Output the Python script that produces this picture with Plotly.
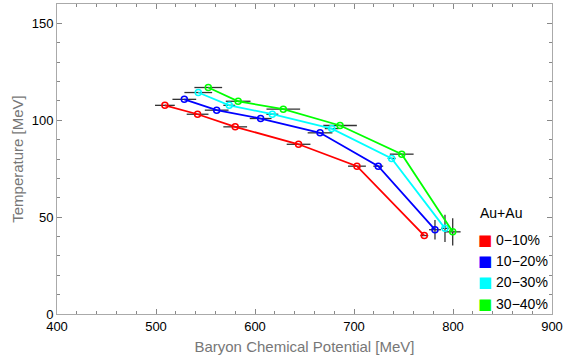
import plotly.graph_objects as go

labels = ["0\u221210%", "10\u221220%", "20\u221230%", "30\u221240%"]
colors = ["#ff0000", "#0000ff", "#00ffff", "#00ff00"]
legend_title = "Au+Au"

mu_0_10 = [509, 542, 580, 644, 703, 771]
T_0_10 = [107.7, 103.1, 96.6, 87.6, 76.3, 40.5]
dmu_0_10 = [10, 11, 12, 12, 9, 4]
dT_0_10 = [0, 0, 0, 0, 0, 0]

mu_10_20 = [528.6, 561.3, 605.7, 665.7, 724.5, 781.8]
T_10_20 = [110.8, 105.2, 100.9, 93.5, 76.3, 43.5]
dmu_10_20 = [12, 12, 11, 12.5, 5, 6]
dT_10_20 = [0, 0, 0, 0, 0, 5]

mu_20_30 = [542.7, 574, 617.5, 677.5, 738, 791.9]
T_20_30 = [114.3, 107.7, 103.1, 95.7, 80.3, 44.2]
dmu_20_30 = [14, 6, 6, 7, 4, 4]
dT_20_30 = [0, 0, 0, 0, 0, 7]

mu_30_40 = [552.8, 583, 628.6, 685.9, 748.2, 799.7]
T_30_40 = [116.9, 109.8, 105.7, 97.3, 82.5, 42.4]
dmu_30_40 = [14, 12.5, 17, 17, 12, 8]
dT_30_40 = [0, 0, 0, 0, 0, 7]

series = [
    (mu_0_10, T_0_10, dmu_0_10, dT_0_10),
    (mu_10_20, T_10_20, dmu_10_20, dT_10_20),
    (mu_20_30, T_20_30, dmu_20_30, dT_20_30),
    (mu_30_40, T_30_40, dmu_30_40, dT_30_40),
]

FONT = "Liberation Sans, Arial"

fig = go.Figure()
# error bars
for (mu, T, dmu, dT), c in zip(series, colors):
    fig.add_trace(go.Scatter(
        x=mu, y=T, mode="markers", marker=dict(size=1, color="rgba(0,0,0,0)"),
        error_x=dict(type="data", array=dmu, color="#333333", thickness=1.3, width=0),
        error_y=dict(type="data", array=dT, color="#333333", thickness=1.3, width=0),
        showlegend=False, hoverinfo="skip"))
# lines + markers, legend entry uses a coloured square glyph
for (mu, T, dmu, dT), c, lab in zip(series, colors, labels):
    fig.add_trace(go.Scatter(
        x=mu, y=T, mode="lines+markers",
        line=dict(color=c, width=1.8),
        marker=dict(symbol="circle-open", size=6, color=c, line=dict(width=1.5, color=c)),
        showlegend=False))
    fig.add_trace(go.Scatter(
        x=[None], y=[None], mode="markers",
        name=f"<span style='color:{c};font-size:15px;font-family:DejaVu Sans'>\u25A0</span> {lab}",
        marker=dict(symbol="square", size=1, color="rgba(0,0,0,0)")))

axis_common = dict(
    showgrid=False, zeroline=False, showline=True, linecolor="#aaaaaa", linewidth=1,
    mirror="allticks", ticks="inside", ticklen=5, tickcolor="#888888",
    tickfont=dict(family=FONT, size=13, color="#000000"),
)
fig.update_xaxes(
    range=[400, 900], dtick=100, tick0=400,
    minor=dict(dtick=20, ticks="inside", ticklen=3, tickcolor="#888888"),
    title=dict(text="Baryon Chemical Potential [MeV]", standoff=8,
               font=dict(family=FONT, size=15, color="#777777")),
    **axis_common)
fig.update_yaxes(
    range=[0, 160], dtick=50, tick0=0,
    minor=dict(dtick=10, ticks="inside", ticklen=3, tickcolor="#888888"),
    title=dict(text="Temperature [MeV]", standoff=4,
               font=dict(family=FONT, size=15, color="#777777")),
    **axis_common)

fig.update_layout(
    width=569, height=360,
    margin=dict(l=57, r=17, t=4, b=46, autoexpand=False),
    plot_bgcolor="white", paper_bgcolor="white",
    font=dict(family=FONT, size=13, color="#000000"),
    legend=dict(
        x=(438 - 57) / 495, y=(314 - 224) / 310, xanchor="left", yanchor="top",
        font=dict(size=14), bgcolor="rgba(0,0,0,0)",
        tracegroupgap=0, itemwidth=30,
    ),
    annotations=[dict(
        text=legend_title, xref="paper", yref="paper",
        x=(478 - 57) / 495, y=(314 - 213) / 310, xanchor="left", yanchor="middle",
        showarrow=False, font=dict(family=FONT, size=14, color="#000000"))],
)

fig.write_html("out.html")
